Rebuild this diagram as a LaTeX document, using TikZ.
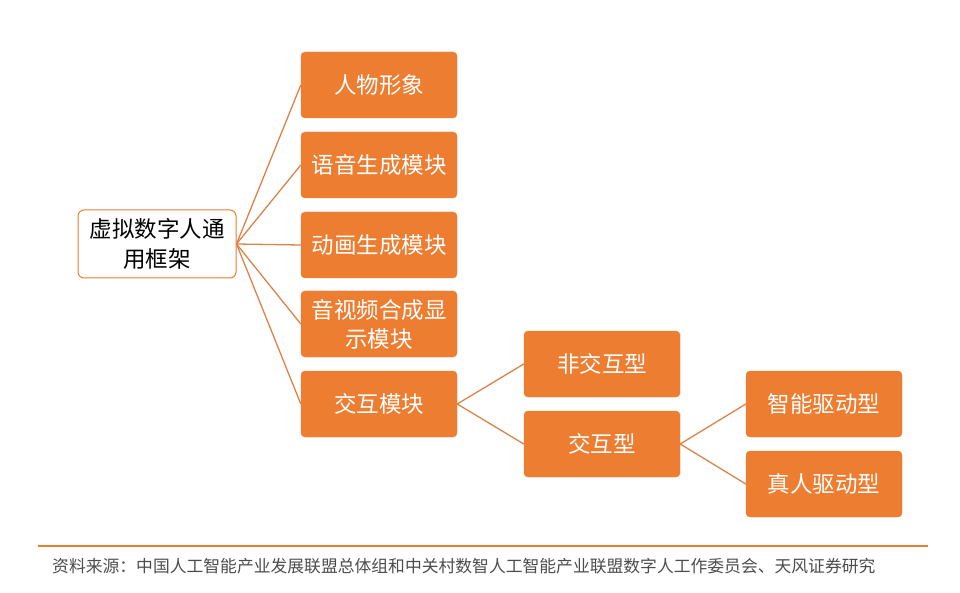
\documentclass[tikz,border=0pt]{standalone}
\usepackage{fontspec}
\newfontfamily\cjk{Noto Sans CJK SC}
\definecolor{org}{HTML}{ED7D31}
\definecolor{lnk}{HTML}{D9844A}
\begin{document}
\begin{tikzpicture}[x=1pt,y=-1pt,
 ob/.style={draw=org,fill=org,rounded corners=4pt,minimum width=156pt,minimum height=66pt,text=white,font=\cjk\fontsize{22.5}{29}\selectfont,align=center,inner sep=2pt},
 rb/.style={draw=org,line width=1pt,fill=white,rounded corners=6pt,minimum width=158pt,minimum height=68pt,font=\cjk\fontsize{22.5}{30}\selectfont,align=center,inner sep=1pt},
 ln/.style={draw=lnk,line width=1.3pt}]
\useasboundingbox (0,0) rectangle (960,593);
\node[rb] (r) at (157,244) {虚拟数字人通\\用框架};
\node[ob] (a1) at (379,85) {人物形象};
\node[ob] (a2) at (379,165) {语音生成模块};
\node[ob] (a3) at (379,245) {动画生成模块};
\node[ob] (a4) at (379,324) {音视频合成显\\示模块};
\node[ob] (a5) at (379,404) {交互模块};
\node[ob] (b1) at (602,364) {非交互型};
\node[ob] (b2) at (602,444) {交互型};
\node[ob] (c1) at (824,404) {智能驱动型};
\node[ob] (c2) at (824,484) {真人驱动型};
\foreach \t in {a1,a2,a3,a4,a5} \draw[ln] (r.east) -- (\t.west);
\foreach \t in {b1,b2} \draw[ln] (a5.east) -- (\t.west);
\foreach \t in {c1,c2} \draw[ln] (b2.east) -- (\t.west);
\coordinate (l1) at (38,546); \coordinate (l2) at (928,546);
\draw[org,line width=1.2pt] (l1) -- (l2);
\node[anchor=west,text=black!70,font=\cjk\fontsize{16.8}{20}\selectfont,inner sep=0] (ft) at (52,566) {资料来源：中国人工智能产业发展联盟总体组和中关村数智人工智能产业联盟数字人工作委员会、天风证券研究};
\end{tikzpicture}
\end{document}
